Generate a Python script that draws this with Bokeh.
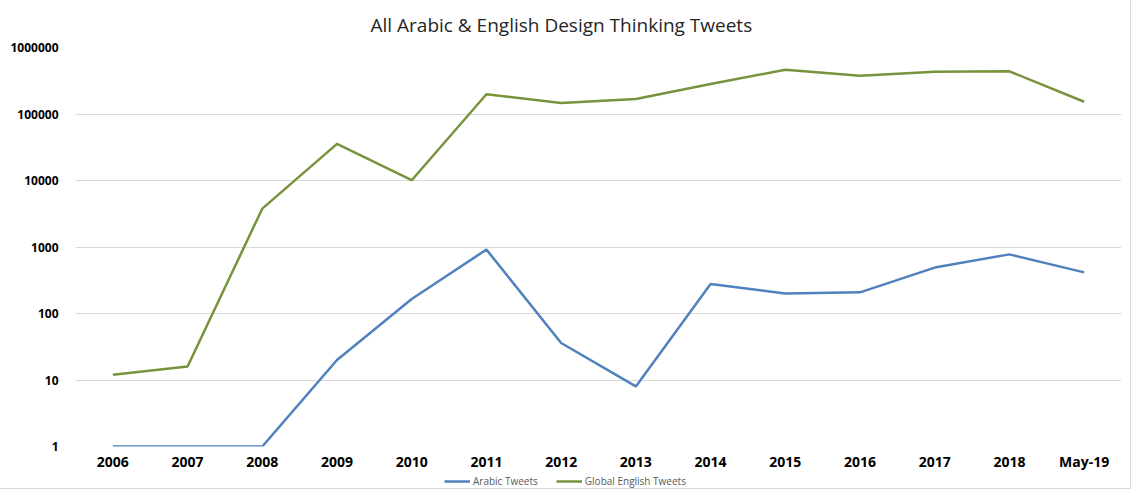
from bokeh.plotting import figure
from bokeh.layouts import column
from bokeh.models import (FactorRange, Range1d, FixedTicker, PrintfTickFormatter,
                          Legend, LegendItem, Title)
from bokeh.embed import file_html
from bokeh.resources import INLINE

categories = ["2006", "2007", "2008", "2009", "2010", "2011", "2012", "2013",
              "2014", "2015", "2016", "2017", "2018", "May-19"]
arabic_tweets = [1, 1, 1, 20, 165, 915, 36, 8, 278, 200, 208, 490, 775, 415]
global_english_tweets = [12, 16, 3770, 35600, 10100, 198000, 146000, 168000,
                         283000, 463000, 377000, 432000, 438000, 153000]
y_ticks = [1, 10, 100, 1000, 10000, 100000, 1000000]
series_names = ["Arabic Tweets", "Global English Tweets"]
series_colors = ["#4f81bd", "#77933c"]
title_text = "All Arabic & English Design Thinking Tweets"

FONT = "Open Sans"

p = figure(width=1130, height=474, x_range=FactorRange(*categories),
           y_range=Range1d(y_ticks[0], y_ticks[-1]), y_axis_type="log",
           output_backend="svg", toolbar_location=None,
           min_border_left=75, min_border_right=9, min_border_top=45,
           min_border_bottom=28)

p.title = Title(text=title_text, align="left", offset=295,
                text_font=FONT, text_font_size="19px", text_font_style="normal",
                text_color="#262626", standoff=19)

p.outline_line_color = None
p.background_fill_color = "white"
p.border_fill_color = "white"

p.xgrid.grid_line_color = None
p.ygrid.grid_line_color = "#d9d9d9"
p.ygrid.grid_line_width = 1
p.ygrid.minor_grid_line_color = None

p.yaxis.ticker = FixedTicker(ticks=y_ticks, minor_ticks=[])
p.yaxis.formatter = PrintfTickFormatter(format="%d")
for ax in (p.xaxis[0], p.yaxis[0]):
    ax.axis_line_color = None
    ax.major_tick_line_color = None
    ax.minor_tick_line_color = None
    ax.major_tick_out = 0
    ax.major_tick_in = 0
    ax.minor_tick_out = 0
    ax.major_label_text_font = FONT
    ax.major_label_text_font_style = "bold"
    ax.major_label_text_color = "#000000"
p.yaxis.major_label_text_font_size = "12px"
p.yaxis.major_label_standoff = 17
p.xaxis.major_label_text_font_size = "14px"
p.xaxis.major_label_standoff = 5

p.line(categories, arabic_tweets, line_color=series_colors[0], line_width=2.5)
p.line(categories, global_english_tweets, line_color=series_colors[1], line_width=2.5)

# legend strip below the chart (its proxy lines lie outside its visible range)
lg = figure(width=1130, height=14, x_range=FactorRange(*categories),
            y_range=Range1d(y_ticks[-1] * 2, y_ticks[-1] * 3), y_axis_type="log",
            output_backend="svg", toolbar_location=None,
            min_border_left=75, min_border_right=9, min_border_top=0,
            min_border_bottom=0)
lg.xaxis.visible = False
lg.yaxis.visible = False
lg.grid.visible = False
lg.outline_line_color = None
lg.border_fill_color = "white"
lr1 = lg.line(categories, arabic_tweets, line_color=series_colors[0], line_width=2.5)
lr2 = lg.line(categories, global_english_tweets, line_color=series_colors[1],
              line_width=2.5)
legend = Legend(items=[LegendItem(label=series_names[0], renderers=[lr1]),
                       LegendItem(label=series_names[1], renderers=[lr2])],
                orientation="horizontal", location=(369, 0),
                label_text_font=FONT, label_text_font_size="10px",
                label_text_color="#595959", glyph_width=26, glyph_height=12,
                label_standoff=3, spacing=18, padding=0, margin=0,
                border_line_color=None, background_fill_alpha=0,
                label_height=14)
lg.add_layout(legend, "center")

layout = column(p, lg, spacing=0, styles={"outline": "1px solid #d9d9d9"})

open("out.html", "w").write(file_html(layout, INLINE))
